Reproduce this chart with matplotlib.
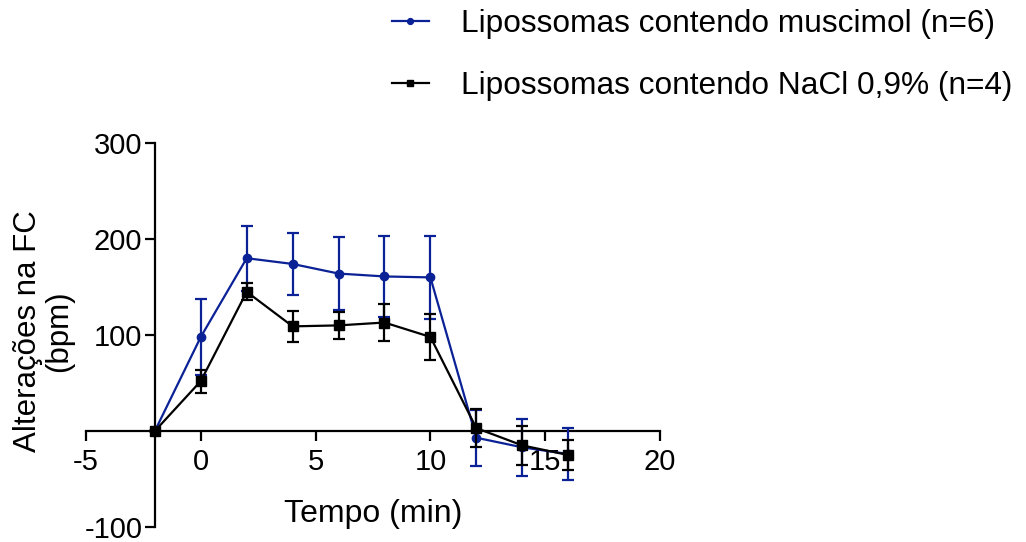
"Heart rate change over time, muscimol vs NaCl liposomes"

import matplotlib.pyplot as plt
import numpy as np

plt.rcParams['font.family'] = ['Liberation Sans', 'DejaVu Sans']
plt.rcParams['axes.unicode_minus'] = False

# time points (min)
tempo = np.array([-2, 0, 2, 4, 6, 8, 10, 12, 14, 16])

# muscimol liposomes: mean and SEM (bpm)
muscimol = np.array([0, 98, 180, 174, 164, 161, 160, -7, -17, -24])
muscimol_sem = np.array([0, 40, 34, 32, 38, 42, 43, 29, 30, 27])

# NaCl 0.9% liposomes: mean and SEM (bpm)
nacl = np.array([0, 52, 145, 109, 110, 113, 98, 3, -15, -25])
nacl_sem = np.array([0, 12, 9, 16, 14, 19, 24, 20, 20, 16])

labels = ['Lipossomas contendo muscimol (n=6)',
          'Lipossomas contendo NaCl 0,9% (n=4)']
xticks = [-5, 0, 5, 10, 15, 20]
yticks = [-100, 100, 200, 300]

blue = '#0b2196'

fig = plt.figure(figsize=(10.26, 5.42), dpi=100)
ax = fig.add_axes([86 / 1026, 1 - 527 / 542, 574 / 1026, 384 / 542])

l1 = ax.errorbar(tempo, muscimol, yerr=muscimol_sem, color=blue, marker='o',
                 ms=6, lw=1.6, elinewidth=1.6, capsize=4, capthick=1.6,
                 clip_on=False, zorder=3)
l2 = ax.errorbar(tempo, nacl, yerr=nacl_sem, color='black', marker='s',
                 ms=6.5, lw=1.6, elinewidth=1.6, capsize=4, capthick=1.6,
                 clip_on=False, zorder=4)

ax.set_xlim(-5, 20)
ax.set_ylim(-100, 300)
ax.set_xticks(xticks)
ax.set_yticks(yticks)

# axes cross at x=-2, y=0
ax.spines['left'].set_position(('data', -2))
ax.spines['bottom'].set_position(('data', 0))
ax.spines['top'].set_visible(False)
ax.spines['right'].set_visible(False)
for s in ('left', 'bottom'):
    ax.spines[s].set_linewidth(1.6)
ax.tick_params(width=1.6, length=7, labelsize=21, pad=2)
ax.tick_params(axis='x', pad=5)

ax.set_xlabel('Tempo (min)', fontsize=23)
ax.xaxis.set_label_coords(0.5, 0.072)
ax.set_ylabel('Alterações na FC\n(bpm)', fontsize=22.5, linespacing=1.05)
ax.yaxis.set_label_coords(-0.02, 0.51)

fig.legend([l1[0], l2[0]], labels, loc='upper left',
           bbox_to_anchor=(392 / 1026, 1 - 9 / 542), frameon=False,
           fontsize=22.8, markerscale=0.7, handlelength=1.16,
           handletextpad=1.03, labelspacing=1.0, borderpad=0,
           borderaxespad=0)

fig.savefig('out.png', dpi=100)
